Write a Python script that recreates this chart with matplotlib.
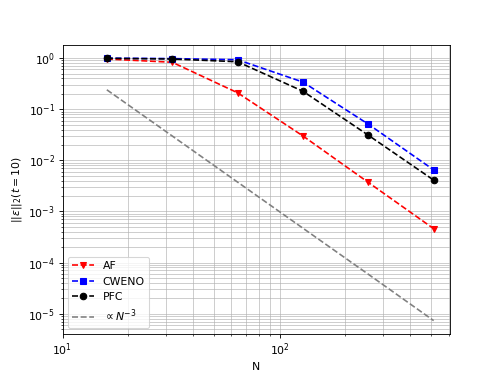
import matplotlib
matplotlib.use("Agg")
import matplotlib.pyplot as plt

N = [16, 32, 64, 128, 256, 512]
err_af = [0.96, 0.83, 0.21, 0.030, 0.0037, 0.00046]
err_cweno = [1.0, 0.98, 0.93, 0.34, 0.051, 0.0065]
err_pfc = [0.99, 0.96, 0.85, 0.225, 0.031, 0.0041]
ref = [0.24, 0.03, 0.00375, 0.00047, 5.9e-5, 7.3e-6]

fig = plt.figure(figsize=(6.4, 4.8), dpi=78.125)
ax = fig.add_subplot(111)

ax.loglog(N, err_af, 'rv--', label='AF')
ax.loglog(N, err_cweno, 'bs--', label='CWENO')
ax.loglog(N, err_pfc, 'ko--', label='PFC')
ax.loglog(N, ref, '--', color='gray', label=r'$\propto N^{-3}$')

ax.set_xlim(left=10)
ax.grid(True, which='both', color='#b0b0b0', alpha=0.7)
ax.set_xlabel('N')
ax.set_ylabel(r'$||\epsilon||_2(t=10)$')
ax.legend(loc='lower left')

plt.savefig('out.png', dpi=78.125)
